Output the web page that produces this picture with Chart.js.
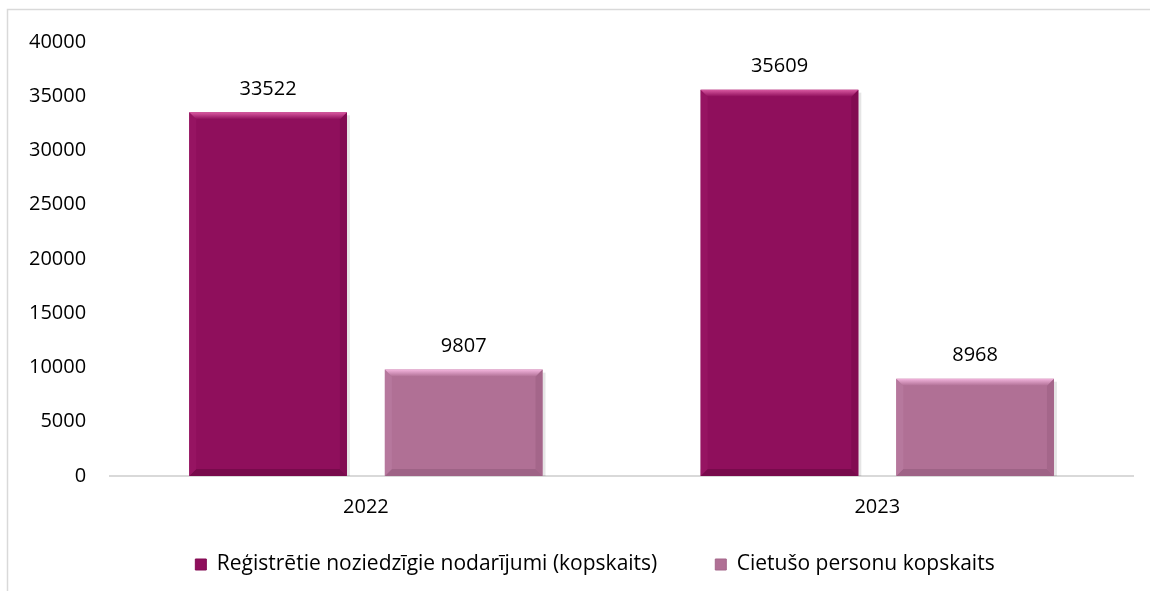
<!DOCTYPE html>
<html>
<head>
<meta charset="utf-8">
<script src="https://cdn.jsdelivr.net/npm/chart.js@4"></script>
<style>
html,body{margin:0;padding:0;background:#fff;}
#wrap{position:relative;width:1150px;height:591px;}
</style>
</head>
<body>
<div id="wrap"><canvas id="c" width="1150" height="591"></canvas></div>
<script>
const categories = ["2022", "2023"];
const seriesNames = ["Reģistrētie noziedzīgie nodarījumi (kopskaits)", "Cietušo personu kopskaits"];
const registered = [33522, 35609];
const victims = [9807, 8968];
const yTicks = [0, 5000, 10000, 15000, 20000, 25000, 30000, 35000, 40000];

const FONT = "'Open Sans', sans-serif";
const FS = 20;
const LEGEND_PAD = 58;

const bevelColors = [
  { top: '#DA5AA2', left: '#961462', right: '#820B52', bottom: '#780A4C' },
  { top: '#F3B4DD', left: '#B6789D', right: '#A4668A', bottom: '#9E6386' }
];

const framePlugin = {
  id: 'frame',
  beforeDraw(chart) {
    const ctx = chart.ctx;
    ctx.save();
    ctx.fillStyle = '#fff';
    ctx.fillRect(0, 0, chart.width, chart.height);
    ctx.strokeStyle = '#d9d9d9';
    ctx.lineWidth = 1.5;
    ctx.beginPath();
    ctx.moveTo(7.5, chart.height);
    ctx.lineTo(7.5, 9.5);
    ctx.lineTo(chart.width, 9.5);
    ctx.stroke();
    ctx.restore();
  }
};

// place the legend row (its label line) at a fixed vertical position
const legendPlace = {
  id: 'legendPlace',
  afterLayout(chart) {
    const lg = chart.legend;
    if (!lg) return;
    const dy = 554 - (lg.top + LEGEND_PAD);
    lg.top += dy; lg.bottom += dy;
    lg.left += 22; lg.right += 22;
  }
};

function poly(ctx, pts, fill) {
  ctx.beginPath();
  ctx.moveTo(pts[0][0], pts[0][1]);
  for (let i = 1; i < pts.length; i++) ctx.lineTo(pts[i][0], pts[i][1]);
  ctx.closePath();
  ctx.fillStyle = fill;
  ctx.fill();
}

const bevelPlugin = {
  id: 'bevel',
  beforeDatasetsDraw(chart) {
    const ctx = chart.ctx;
    ctx.save();
    chart.data.datasets.forEach((ds, i) => {
      chart.getDatasetMeta(i).data.forEach((bar) => {
        const r = bar.x + bar.width / 2;
        ctx.fillStyle = 'rgba(0,0,0,0.10)';
        ctx.fillRect(r, bar.y + 3, 3, bar.base - bar.y - 3);
      });
    });
    ctx.restore();
  },
  afterDatasetsDraw(chart) {
    const ctx = chart.ctx;
    ctx.save();
    chart.data.datasets.forEach((ds, i) => {
      const c = bevelColors[i];
      chart.getDatasetMeta(i).data.forEach((bar) => {
        const l = bar.x - bar.width / 2, r = bar.x + bar.width / 2;
        const t = bar.y, b = bar.base;
        const bw = 7;
        const g = ctx.createLinearGradient(0, t, 0, t + bw);
        g.addColorStop(0, c.top);
        g.addColorStop(1, ds.backgroundColor);
        poly(ctx, [[l, b], [l + bw, b - bw], [r - bw, b - bw], [r, b]], c.bottom);
        poly(ctx, [[l, t], [l + bw, t + bw], [l + bw, b - bw], [l, b]], c.left);
        poly(ctx, [[r, t], [r - bw, t + bw], [r - bw, b - bw], [r, b]], c.right);
        poly(ctx, [[l, t], [r, t], [r - bw, t + bw], [l + bw, t + bw]], g);
      });
    });
    ctx.restore();
  }
};

const labelPlugin = {
  id: 'valueLabels',
  afterDatasetsDraw(chart) {
    const ctx = chart.ctx;
    ctx.save();
    ctx.font = FS + "px " + FONT;
    ctx.fillStyle = '#000';
    ctx.textAlign = 'center';
    ctx.textBaseline = 'middle';
    chart.data.datasets.forEach((ds, i) => {
      chart.getDatasetMeta(i).data.forEach((bar, j) => {
        ctx.fillText(String(ds.data[j]), bar.x, bar.y - 23);
      });
    });
    ctx.restore();
  }
};

new Chart(document.getElementById('c'), {
  type: 'bar',
  data: {
    labels: categories,
    datasets: [
      { label: seriesNames[0], data: registered, backgroundColor: '#8F0F5C', borderWidth: 0 },
      { label: seriesNames[1], data: victims, backgroundColor: '#B07095', borderWidth: 0 }
    ]
  },
  options: {
    responsive: false,
    animation: false,
    devicePixelRatio: 1,
    layout: { padding: { left: 13, right: 17, top: 42, bottom: -28 } },
    datasets: { bar: { categoryPercentage: 0.765, barPercentage: 0.806 } },
    plugins: {
      legend: {
        position: 'bottom',
        labels: {
          font: { family: FONT, size: 21 }, color: '#000', boxWidth: 11, boxHeight: 11, padding: LEGEND_PAD,
          generateLabels(chart) {
            return chart.data.datasets.map((ds, i) => ({
              text: ds.label, fillStyle: ds.backgroundColor, strokeStyle: bevelColors[i].right,
              lineWidth: 1, hidden: false, datasetIndex: i, fontColor: '#000'
            }));
          }
        }
      },
      tooltip: { enabled: false }
    },
    scales: {
      x: {
        grid: { display: false },
        border: { color: '#d9d9d9', width: 2 },
        ticks: { font: { family: FONT, size: FS }, color: '#000', padding: 11 }
      },
      y: {
        min: 0, max: 40000,
        afterBuildTicks(scale) { scale.ticks = yTicks.map(v => ({ value: v })); },
        grid: { display: false },
        border: { display: false },
        ticks: { font: { family: FONT, size: FS }, color: '#000', padding: 16, callback: (v) => String(v) }
      }
    }
  },
  plugins: [framePlugin, legendPlace, bevelPlugin, labelPlugin]
});
</script>
</body>
</html>
